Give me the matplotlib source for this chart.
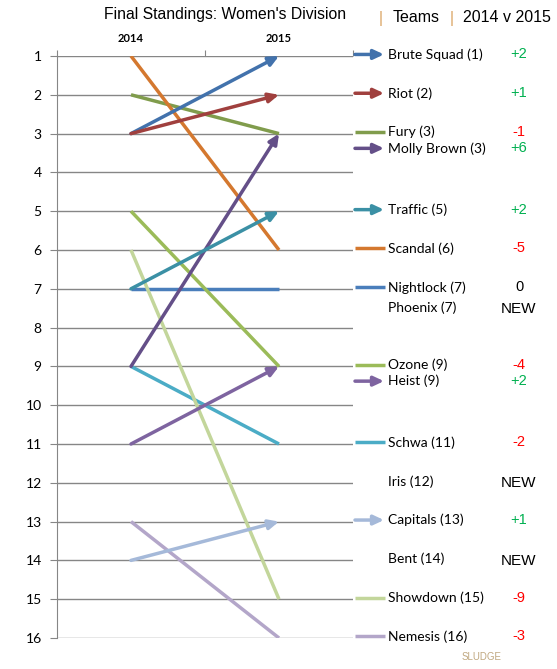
import numpy as np
import matplotlib.pyplot as plt
from matplotlib.transforms import blended_transform_factory

# ============================================================
# Data
# ============================================================
teams = ["Brute Squad", "Riot", "Fury", "Molly Brown", "Traffic", "Scandal",
         "Nightlock", "Phoenix", "Ozone", "Heist", "Schwa", "Iris",
         "Capitals", "Bent", "Showdown", "Nemesis"]
rank_2014 = [3, 3, 2, 9, 7, 1, 7, None, 5, 11, 9, None, 14, None, 6, 13]
rank_2015 = [1, 2, 3, 3, 5, 6, 7, 7, 9, 9, 11, 12, 13, 14, 15, 16]
colors = ["#4272AC", "#A0403E", "#809C4C", "#644F88", "#3B90A5", "#D4782F",
          "#4A7EBB", None, "#9BBB59", "#7E64A0", "#4BACC6", None,
          "#A5B9D9", None, "#C3D69B", "#B3A6C9"]
years = ["2014", "2015"]
ranks = list(range(1, 17))

# ============================================================
# Figure
# ============================================================
W, H = 557, 669
fig = plt.figure(figsize=(W / 100, H / 100), dpi=100)
ax = fig.add_axes([57 / W, 1 - 638 / H, (353 - 57) / W, (638 - 56) / H])

ax.set_xlim(0, 2)
ax.set_ylim(16, 1)

GRID = "#868686"
for s in ["right", "bottom", "top"]:
    ax.spines[s].set_visible(False)
ax.spines["left"].set_color(GRID)

ax.set_yticks(ranks)
ax.set_yticklabels([str(r) for r in ranks], fontfamily="Lato", fontsize=10)
ax.tick_params(axis="y", direction="out", length=5, color=GRID, pad=6)
ax.yaxis.grid(True, color=GRID, lw=1)
ax.set_axisbelow(True)

ax.xaxis.tick_top()
ax.set_xticks([0, 1, 2])
ax.set_xticklabels([])
ax.set_xticks([0.5, 1.5], minor=True)
ax.set_xticklabels(years, minor=True, fontfamily="Lato", fontsize=8, fontweight="bold")
ax.tick_params(axis="x", which="major", direction="out", length=4, color=GRID)
ax.tick_params(axis="x", which="minor", length=0, pad=9)

# ============================================================
# Slope lines
# ============================================================
HEAD = "-|>,head_length=0.6,head_width=0.28"
for t, r0, r1, c in zip(teams, rank_2014, rank_2015, colors):
    if r0 is None:
        continue
    if r0 > r1:
        ax.annotate("", xy=(1.5, r1), xytext=(0.5, r0),
                    arrowprops=dict(arrowstyle=HEAD, color=c, lw=2.5,
                                    shrinkA=0, shrinkB=0))
    else:
        ax.plot([0.5, 1.5], [r0, r1], color=c, lw=2.5, solid_capstyle="butt")

# ============================================================
# Right side list
# ============================================================
tr = blended_transform_factory(fig.transFigure, ax.transData)
seen = {}
for t, r0, r1, c in zip(teams, rank_2014, rank_2015, colors):
    y = r1 - 0.04
    if r1 in seen:
        y += 0.42 if c is not None else 0.52
    seen[r1] = True
    if c is not None:
        if r0 > r1:
            ax.annotate("", xy=(384 / W, y), xytext=(355 / W, y),
                        xycoords=tr, textcoords=tr, annotation_clip=False,
                        arrowprops=dict(arrowstyle=HEAD, color=c, lw=2.5,
                                        shrinkA=0, shrinkB=0))
        else:
            ax.plot([355 / W, 385 / W], [y, y], color=c, lw=2.5,
                    transform=tr, clip_on=False, solid_capstyle="butt")
    ax.text(388 / W, y, f"{t} ({r1})", transform=tr, fontfamily="Lato",
            fontsize=10, va="center", ha="left")
    if r0 is None:
        ax.text(519 / W, y + 0.05, "NEW", transform=tr, fontfamily="Liberation Sans",
                fontsize=11, va="center", ha="center")
    else:
        d = r0 - r1
        dc = "#00B050" if d > 0 else ("#FF0000" if d < 0 else "black")
        ax.text(519 / W, y, f"{d:+d}" if d else "0", transform=tr,
                fontfamily="Liberation Sans", fontsize=10.5, va="center",
                ha="center", color=dc)

# ============================================================
# Titles
# ============================================================
fig.text(225 / W, 1 - 15 / H, "Final Standings: Women's Division",
         fontfamily="Liberation Sans", fontsize=11.3, ha="center", va="center")
hy = 1 - 18 / H
fig.text(381 / W, hy, "|", color="#D9A25E", fontfamily="Liberation Sans",
         fontsize=11.5, ha="center", va="center")
fig.text(393 / W, hy, "Teams", fontfamily="Liberation Sans", fontsize=11.5,
         ha="left", va="center")
fig.text(452 / W, hy, "|", color="#D9A25E", fontfamily="Liberation Sans",
         fontsize=11.5, ha="center", va="center")
fig.text(463 / W, hy, "2014 v 2015", fontfamily="Liberation Sans", fontsize=11.5,
         ha="left", va="center")
fig.text(482 / W, 1 - 657 / H, "SLUDGE", color="#C0A880", fontfamily="Liberation Sans",
         fontsize=7, ha="center", va="center")

fig.savefig("out.png", dpi=100)
